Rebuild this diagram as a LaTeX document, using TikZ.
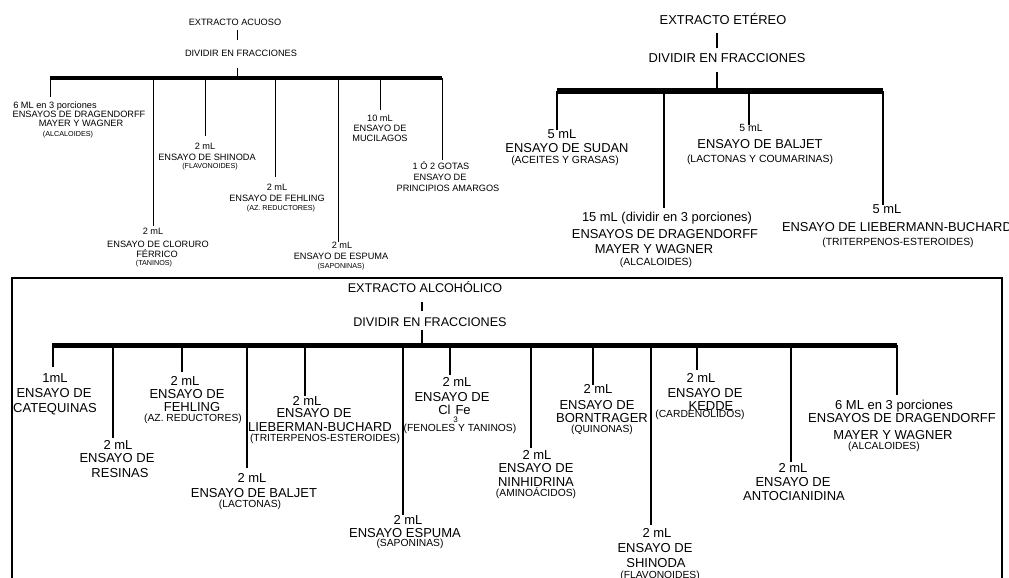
\documentclass[tikz,border=0pt]{standalone}
\usepackage{fontspec}
\setmainfont{Liberation Sans}
\begin{document}
\begin{tikzpicture}[x=1pt,y=-1pt,
 txt/.style={anchor=base, inner sep=0pt, outer sep=0pt},
 tA/.style={txt, font=\fontsize{9.2}{10}\selectfont},
 sA/.style={txt, font=\fontsize{7.2}{8}\selectfont},
 tE/.style={txt, font=\fontsize{12.9}{14}\selectfont},
 sE/.style={txt, font=\fontsize{10.4}{12}\selectfont},
 tB/.style={txt, font=\fontsize{13}{14}\selectfont},
 sB/.style={txt, font=\fontsize{10.3}{12}\selectfont},
 lnA/.style={line width=0.9pt},
 lnB/.style={line width=1.1pt},
 barA/.style={line width=4pt},
 barE/.style={line width=6pt},
 barB/.style={line width=5pt},
 frame/.style={line width=1.5pt}]
\useasboundingbox (0,0) rectangle (1009,578);
\fill[white] (0,0) rectangle (1009,578);

% ================= EXTRACTO ACUOSO =================
\node[tA] (aT) at (235,25.3) {EXTRACTO ACUOSO};
\node[tA] (aD) at (241,56.3) {DIVIDIR EN FRACCIONES};
\coordinate (aS1a) at (237,30); \coordinate (aS1b) at (237,40);
\coordinate (aS2a) at (237,68); \coordinate (aS2b) at (237,77);
\draw[lnA] (aS1a) -- (aS1b);
\draw[lnA] (aS2a) -- (aS2b);
\coordinate (aL) at (50,78); \coordinate (aR) at (442,78);
\draw[barA] (aL) -- (aR);

\coordinate (a1t) at (50,78);  \coordinate (a1e) at (50,97);
\coordinate (a2t) at (153,78); \coordinate (a2e) at (153,226);
\coordinate (a3t) at (205,78); \coordinate (a3e) at (205,136);
\coordinate (a4t) at (275,78); \coordinate (a4e) at (275,177);
\coordinate (a5t) at (338,78); \coordinate (a5e) at (338,242);
\coordinate (a6t) at (380,78); \coordinate (a6e) at (380,110);
\coordinate (a7t) at (442,78); \coordinate (a7e) at (442,160);
\foreach \i in {1,...,7} \draw[lnA] (a\i t) -- (a\i e);

\node[tA] (a1l1) at (55,108.3) {6 ML en 3 porciones};
\node[tA] (a1l2) at (79,117.3) {ENSAYOS DE DRAGENDORFF};
\node[tA] (a1l3) at (81,126.8) {MAYER Y WAGNER};
\node[sA] (a1l4) at (68,136.6) {(ALCALOIDES)};

\node[tA] (a2l1) at (153,234.5) {2 mL};
\node[tA] (a2l2) at (158,247.3) {ENSAYO DE CLORURO};
\node[tA] (a2l3) at (157,257.3) {FÉRRICO};
\node[sA] (a2l4) at (154,265.6) {(TANINOS)};

\node[tA] (a3l1) at (205,149.3) {2 mL};
\node[tA] (a3l2) at (207,160.3) {ENSAYO DE SHINODA};
\node[sA] (a3l3) at (210,168.6) {(FLAVONOIDES)};

\node[tA] (a4l1) at (277,190.8) {2 mL};
\node[tA] (a4l2) at (277,201.8) {ENSAYO DE FEHLING};
\node[sA] (a4l3) at (281,210.6) {(AZ. REDUCTORES)};

\node[tA] (a5l1) at (342,248.3) {2 mL};
\node[tA] (a5l2) at (341,259.3) {ENSAYO DE ESPUMA};
\node[sA] (a5l3) at (341,268.6) {(SAPONINAS)};

\node[tA] (a6l1) at (380,121.3) {10 mL};
\node[tA] (a6l2) at (380,131.8) {ENSAYO DE};
\node[tA] (a6l3) at (380,141.8) {MUCILAGOS};

\node[tA] (a7l1) at (441,169.3) {1 Ó 2 GOTAS};
\node[tA] (a7l2) at (440,180.3) {ENSAYO DE};
\node[tA] (a7l3) at (448,191.3) {PRINCIPIOS AMARGOS};

% ================= EXTRACTO ETEREO =================
\node[tE] (eT) at (723,24.6) {EXTRACTO ETÉREO};
\node[tE] (eD) at (727,62.6) {DIVIDIR EN FRACCIONES};
\coordinate (eS1a) at (717,33); \coordinate (eS1b) at (717,48);
\coordinate (eS2a) at (717,72); \coordinate (eS2b) at (717,89);
\draw[lnB] (eS1a) -- (eS1b);
\draw[lnB] (eS2a) -- (eS2b);
\coordinate (eL) at (557,91); \coordinate (eR) at (883,91);
\draw[barE] (eL) -- (eR);

\coordinate (e1t) at (557,91); \coordinate (e1e) at (557,130);
\coordinate (e2t) at (664,91); \coordinate (e2e) at (664,208);
\coordinate (e3t) at (749,91); \coordinate (e3e) at (749,125);
\coordinate (e4t) at (883,91); \coordinate (e4e) at (883,205);
\foreach \i in {1,...,4} \draw[lnB] (e\i t) -- (e\i e);

\node[tE] (e1l1) at (562,138.6) {5 mL};
\node[tE] (e1l2) at (567,152.6) {ENSAYO DE SUDAN};
\node[sE] (e1l3) at (565,163.7) {(ACEITES Y GRASAS)};

\node[tE] (e2l1) at (667,221.6) {15 mL (dividir en 3 porciones)};
\node[tE] (e2l2) at (665,238.1) {ENSAYOS DE DRAGENDORFF};
\node[tE] (e2l3) at (654,253.1) {MAYER Y WAGNER};
\node[sE] (e2l4) at (656,265.7) {(ALCALOIDES)};

\node[sE] (e3l1) at (751,131.2) {5 mL};
\node[tE] (e3l2) at (760,148.1) {ENSAYO DE BALJET};
\node[sE] (e3l3) at (760,162.7) {(LACTONAS Y COUMARINAS)};

\node[tE] (e4l1) at (887,213.6) {5 mL};
\node[tE, anchor=base west] (e4l2) at (782,231.1) {ENSAYO DE LIEBERMANN-BUCHARD};
\node[sE] (e4l3) at (898,245.7) {(TRITERPENOS-ESTEROIDES)};

% ================= EXTRACTO ALCOHOLICO =================
\coordinate (bx1) at (12,278); \coordinate (bx2) at (1002,600);
\draw[frame] (bx1) rectangle (bx2);
\node[tB, font=\fontsize{12.6}{14}\selectfont] (bT) at (425,292.6) {EXTRACTO ALCOHÓLICO};
\node[tB, font=\fontsize{12.6}{14}\selectfont] (bD) at (430,326.6) {DIVIDIR EN FRACCIONES};
\coordinate (bS1a) at (422,302); \coordinate (bS1b) at (422,311);
\coordinate (bS2a) at (422,330); \coordinate (bS2b) at (422,343);
\draw[lnB] (bS1a) -- (bS1b);
\draw[lnB] (bS2a) -- (bS2b);
\coordinate (bL) at (52,345); \coordinate (bR) at (897,345);
\draw[barB] (bL) -- (bR);

\coordinate (b1t) at (53,345);  \coordinate (b1e) at (53,367);
\coordinate (b2t) at (113,345); \coordinate (b2e) at (113,438);
\coordinate (b3t) at (182,345); \coordinate (b3e) at (182,372);
\coordinate (b4t) at (247,345); \coordinate (b4e) at (247,468);
\coordinate (b5t) at (305,345); \coordinate (b5e) at (305,396);
\coordinate (b6t) at (403,345); \coordinate (b6e) at (403,515);
\coordinate (b7t) at (450,345); \coordinate (b7e) at (450,375);
\coordinate (b8t) at (531,345); \coordinate (b8e) at (531,448);
\coordinate (b9t) at (593,345); \coordinate (b9e) at (593,385);
\coordinate (b10t) at (651,345); \coordinate (b10e) at (651,525);
\coordinate (b11t) at (697,345); \coordinate (b11e) at (697,370);
\coordinate (b12t) at (791,345); \coordinate (b12e) at (791,462);
\coordinate (b13t) at (897,345); \coordinate (b13e) at (897,395);
\foreach \i in {1,...,13} \draw[lnB] (b\i t) -- (b\i e);

\node[tB] (b1l1) at (55,382.7) {1mL};
\node[tB] (b1l2) at (54,397.7) {ENSAYO DE};
\node[tB] (b1l3) at (55,412.7) {CATEQUINAS};

\node[tB] (b2l1) at (118,449.7) {2 mL};
\node[tB] (b2l2) at (117,462.7) {ENSAYO DE};
\node[tB] (b2l3) at (120,477.7) {RESINAS};

\node[tB] (b3l1) at (185,385.7) {2 mL};
\node[tB] (b3l2) at (187,398.7) {ENSAYO DE};
\node[tB] (b3l3) at (192,411.7) {FEHLING};
\node[sB] (b3l4) at (193,421.2) {(AZ. REDUCTORES)};

\node[tB] (b4l1) at (252,482.7) {2 mL};
\node[tB] (b4l2) at (254,497.2) {ENSAYO DE BALJET};
\node[sB] (b4l3) at (250,507.7) {(LACTONAS)};

\node[tB] (b5l1) at (307,405.7) {2 mL};
\node[tB] (b5l2) at (314,417.7) {ENSAYO DE};
\node[tB] (b5l3) at (320,431.7) {LIEBERMAN-BUCHARD};
\node[sB] (b5l4) at (325,441.2) {(TRITERPENOS-ESTEROIDES)};

\node[tB] (b6l1) at (408,524.7) {2 mL};
\node[tB] (b6l2) at (405,537.7) {ENSAYO ESPUMA};
\node[sB] (b6l3) at (410,546.2) {(SAPONINAS)};

\node[tB] (b7l1) at (457,386.7) {2 mL};
\node[tB] (b7l2) at (452,401.7) {ENSAYO DE};
\node[tB] (b7l3) at (454.5,414.7) {Cl\hspace{5pt}Fe};
\node[txt, font=\fontsize{8}{9}\selectfont] (b7sub) at (455.5,422.5) {3};
\node[sB] (b7l4) at (460,431.2) {(FENOLES Y TANINOS)};

\node[tB] (b8l1) at (537,459.7) {2 mL};
\node[tB] (b8l2) at (536,472.7) {ENSAYO DE};
\node[tB] (b8l3) at (536,486.2) {NINHIDRINA};
\node[sB] (b8l4) at (536,496.7) {(AMINOÁCIDOS)};

\node[tB] (b9l1) at (598,393.7) {2 mL};
\node[tB] (b9l2) at (597,409.7) {ENSAYO DE};
\node[tB] (b9l3) at (602,422.7) {BORNTRAGER};
\node[sB] (b9l4) at (602,432.7) {(QUINONAS)};

\node[tB] (b10l1) at (657,537.7) {2 mL};
\node[tB] (b10l2) at (655,552.7) {ENSAYO DE};
\node[tB] (b10l3) at (656,567.7) {SHINODA};
\node[sB] (b10l4) at (660,578.7) {(FLAVONOIDES)};

\node[tB] (b11l1) at (701,382.7) {2 mL};
\node[tB] (b11l2) at (705,397.7) {ENSAYO DE};
\node[tB] (b11l3) at (711,410.7) {KEDDE};
\node[sB] (b11l4) at (700,417.7) {(CARDENÓLIDOS)};

\node[tB] (b12l1) at (793,472.7) {2 mL};
\node[tB] (b12l2) at (793,486.7) {ENSAYO DE};
\node[tB] (b12l3) at (794,500.7) {ANTOCIANIDINA};

\node[tB] (b13l1) at (894,409.7) {6 ML en 3 porciones};
\node[tB] (b13l2) at (902,422.7) {ENSAYOS DE DRAGENDORFF};
\node[tB] (b13l3) at (893,439.7) {MAYER Y WAGNER};
\node[sB] (b13l4) at (884,449.7) {(ALCALOIDES)};
\end{tikzpicture}
\end{document}
